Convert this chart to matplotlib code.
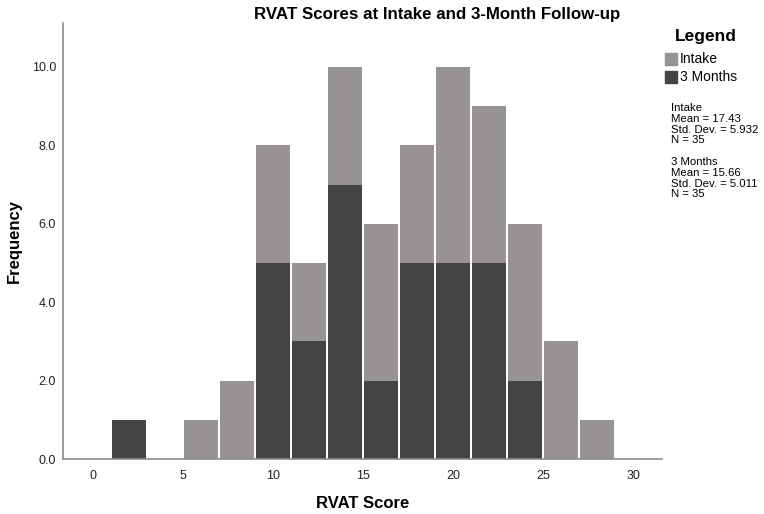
import numpy as np
import matplotlib
matplotlib.use("Agg")
import matplotlib.pyplot as plt
from matplotlib.patches import Rectangle

plt.rcParams['font.family'] = ['Liberation Sans', 'DejaVu Sans']

# Histogram bins (width 2), counts
bin_centers = [2, 4, 6, 8, 10, 12, 14, 16, 18, 20, 22, 24, 26, 28]
intake = [0, 0, 1, 2, 3, 2, 3, 4, 3, 5, 4, 4, 3, 1]
months3 = [1, 0, 0, 0, 5, 3, 7, 2, 5, 5, 5, 2, 0, 0]

series_names = ['Intake', '3 Months']
stats_text = ("Intake\nMean = 17.43\nStd. Dev. = 5.932\nN = 35\n\n"
              "3 Months\nMean = 15.66\nStd. Dev. = 5.011\nN = 35")

x_ticks = [0, 5, 10, 15, 20, 25, 30]
y_ticks = [0, 2, 4, 6, 8, 10]

col_intake = '#979392'
col_3m = '#444446'
axis_col = '#8c8c8c'

fig = plt.figure(figsize=(7.64, 5.14), dpi=100)
ax = fig.add_axes([63/764, 1-459/514, (662-63)/764, (459-23)/514])

# stacked bars: 3 months at the bottom, intake on top
ax.bar(bin_centers, months3, width=1.9, color=col_3m, linewidth=0)
ax.bar(bin_centers, intake, width=1.9, bottom=months3, color=col_intake, linewidth=0)

ax.set_xlim(-1.667, 31.61)
ax.set_ylim(0, 11.12)
ax.set_xticks(x_ticks)
ax.set_yticks(y_ticks)
ax.set_yticklabels([f"{v:.1f}" for v in y_ticks])
ax.tick_params(length=0, labelsize=9, colors='#222222')
ax.tick_params(axis='x', pad=8)
ax.tick_params(axis='y', pad=5)

for s in ['top', 'right']:
    ax.spines[s].set_visible(False)
for s in ['left', 'bottom']:
    ax.spines[s].set_color(axis_col)
    ax.spines[s].set_linewidth(1.2)

ax.set_xlabel('RVAT Score', fontsize=12, fontweight='bold', va='center')
ax.xaxis.set_label_coords(0.5, -0.101)
ax.set_ylabel('Frequency', fontsize=12, fontweight='bold', va='center')
ax.yaxis.set_label_coords(-0.082, 0.5)

fig.text(437/764, 1-14/514, 'RVAT Scores at Intake and 3-Month Follow-up',
         fontsize=12.2, fontweight='bold', ha='center', va='center')

# legend, drawn by hand like the SPSS panel
fig.text(706/764, 1-37/514, 'Legend', fontsize=12.5, fontweight='bold',
         ha='center', va='center')
for i, (name, c) in enumerate(zip(series_names, [col_intake, col_3m])):
    yc = 59 + i*18
    fig.patches.append(Rectangle((665/764, 1-(yc+6)/514), 12/764, 12/514,
                                 transform=fig.transFigure, color=c))
    fig.text(680/764, 1-yc/514, name, fontsize=10, ha='left', va='center')

fig.text(671/764, 1-103/514, stats_text, fontsize=8.2, ha='left', va='top',
         linespacing=1.1)

fig.savefig('out.png', dpi=100)
